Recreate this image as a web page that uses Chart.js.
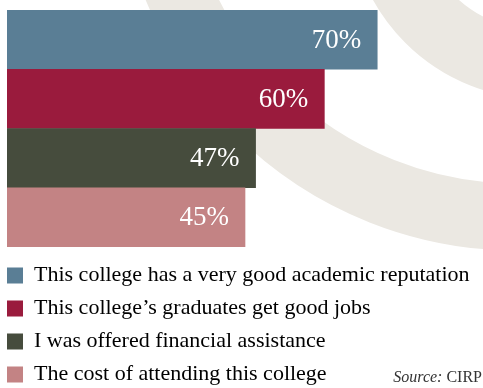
<!DOCTYPE html>
<html>
<head>
<meta charset="utf-8">
<script src="https://cdn.jsdelivr.net/npm/chart.js@4"></script>
<style>
  html, body { margin: 0; padding: 0; background: #fff; }
  #wrap { position: relative; width: 483px; height: 388px; overflow: hidden; }
  #source {
    position: absolute; right: 1px; bottom: 2px;
    font-family: 'Liberation Serif', serif; font-size: 16px; color: #333;
  }
  #source em { font-style: italic; }
</style>
</head>
<body>
<div id="wrap">
  <canvas id="chart" width="483" height="388"></canvas>
  <div id="source"><em>Source:</em> CIRP</div>
</div>
<script>
// Reasons for choosing the college (share of students)
const categories = [
  'This college has a very good academic reputation',
  'This college\u2019s graduates get good jobs',
  'I was offered financial assistance',
  'The cost of attending this college',
];
const values = [70, 60, 47, 45];
const colors = ['#5a7e95', '#9a1b3d', '#464c3d', '#c38384'];

const ARC_COLOR = '#ebe8e2';

// decorative beige arcs behind the bars
const backgroundArcs = {
  id: 'backgroundArcs',
  beforeDraw(chart) {
    const { ctx } = chart;
    ctx.save();
    ctx.strokeStyle = ARC_COLOR;
    ctx.lineWidth = 67;
    ctx.beginPath();
    ctx.arc(517, -150, 367, 0, Math.PI);
    ctx.stroke();
    ctx.lineWidth = 68;
    ctx.beginPath();
    ctx.arc(541, -93, 158, 0, Math.PI);
    ctx.stroke();
    ctx.restore();
  },
};

// value labels inside the bar ends
const barLabels = {
  id: 'barLabels',
  afterDatasetsDraw(chart) {
    const { ctx } = chart;
    const meta = chart.getDatasetMeta(0);
    ctx.save();
    ctx.font = '27px "Liberation Serif", serif';
    ctx.fillStyle = '#ffffff';
    ctx.textAlign = 'right';
    ctx.textBaseline = 'middle';
    meta.data.forEach((bar, i) => {
      ctx.fillText(`${values[i]}%`, bar.x - 16, bar.y + 1);
    });
    ctx.restore();
  },
};

new Chart(document.getElementById('chart'), {
  type: 'bar',
  data: {
    labels: categories,
    datasets: [{
      data: values,
      backgroundColor: colors,
      borderWidth: 0,
      barPercentage: 1,
      categoryPercentage: 1,
    }],
  },
  options: {
    indexAxis: 'y',
    responsive: false,
    animation: false,
    layout: { padding: { left: -4, top: 10, right: 0, bottom: -7.5 } },
    scales: {
      x: {
        min: 0,
        max: 90,
        ticks: { display: false },
        grid: { display: false },
        border: { display: false },
        afterFit: (scale) => { scale.height = 6.5; },
      },
      y: {
        ticks: { display: false },
        grid: { display: false },
        border: { display: false },
        afterFit: (scale) => { scale.width = 11; },
      },
    },
    plugins: {
      tooltip: { enabled: false },
      legend: {
        position: 'bottom',
        align: 'start',
        labels: {
          boxWidth: 16,
          boxHeight: 16,
          padding: 11,
          color: '#333',
          font: { family: '"Liberation Serif", serif', size: 22 },
          generateLabels: () => categories.map((text, i) => ({
            text,
            fillStyle: colors[i],
            strokeStyle: colors[i],
            lineWidth: 0,
            hidden: false,
            index: i,
          })),
        },
      },
    },
  },
  plugins: [backgroundArcs, barLabels],
});
</script>
</body>
</html>
